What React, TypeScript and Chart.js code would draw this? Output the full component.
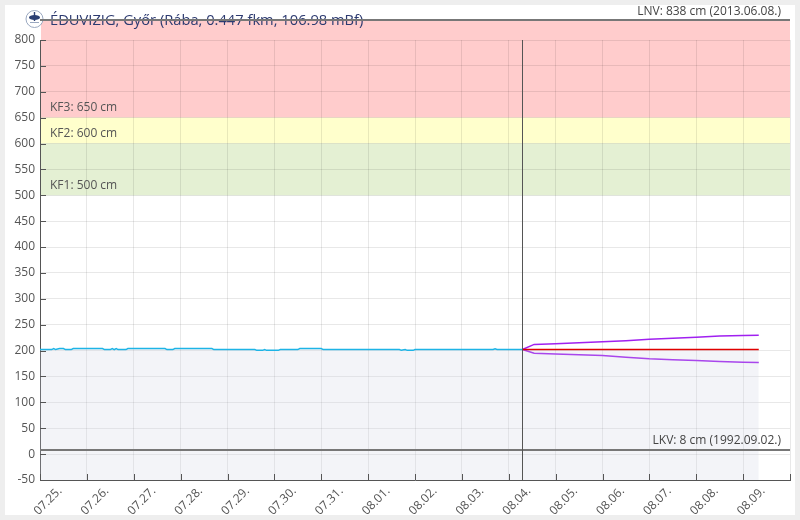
import React, { useEffect, useRef } from "react";
import { Chart, registerables } from "chart.js";

Chart.register(...registerables);

// ---- data ----
const titleText = "ÉDUVIZIG, Győr (Rába, 0.447 fkm, 106.98 mBf)";

// hours since 07.25. 00:00, one tick per day
const xTickLabels = [
  "07.25.", "07.26.", "07.27.", "07.28.", "07.29.", "07.30.", "07.31.", "08.01.",
  "08.02.", "08.03.", "08.04.", "08.05.", "08.06.", "08.07.", "08.08.", "08.09.", "",
];

const measuredHours = [
  0, 6, 7, 8, 10, 12, 13, 16, 17, 32, 33, 36, 37, 38, 39, 40, 44, 45, 64, 65, 68, 69,
  88, 89, 110, 111, 114, 115, 116, 122, 123, 132, 133, 144, 145, 184, 185, 187, 188,
  191, 192, 232, 233, 234, 247,
];
const measuredLevels = [
  202, 202, 204, 202, 204, 204, 202, 202, 204, 204, 202, 202, 204, 202, 204, 202, 202, 204,
  204, 202, 202, 204, 204, 202, 202, 200.5, 200.5, 202, 200.5, 200.5, 202, 202, 204, 204,
  202, 202, 200.5, 202, 200.5, 200.5, 202, 202, 203.5, 202, 202,
];

const forecastHours = [247, 253, 264, 276, 288, 300, 312, 324, 336, 348, 360, 368];
const forecastMid = [202, 202, 202, 202, 202, 202, 202, 202, 202, 202, 202, 202];
const forecastHigh = [202, 212, 213, 215, 217, 219, 222, 224, 226, 228, 229, 229.5];
const forecastLow = [202, 195, 193.5, 192, 190.5, 187, 184, 182.5, 181, 179, 177.5, 177];

const nowHour = 247;

const bandFrom = [650, 600, 500];
const bandTo = [838, 650, 600];
const bandColors = ["#ffcccc", "#ffffcc", "#e4f0d3"];
const kfValues = [650, 600, 500];
const kfLabels = ["KF3: 650 cm", "KF2: 600 cm", "KF1: 500 cm"];

const lnvValue = 838;
const lnvLabel = "LNV: 838 cm (2013.06.08.)";
const lkvValue = 8;
const lkvLabel = "LKV: 8 cm (1992.09.02.)";

const FONT = "'Open Sans', sans-serif";
const FILL = "rgba(200,205,225,0.22)";

const overlay = {
  id: "overlay",
  beforeDraw(chart: any) {
    const { ctx, chartArea: a, scales } = chart;
    const y = scales.y;
    ctx.save();
    for (let i = 0; i < bandFrom.length; i++) {
      const t = y.getPixelForValue(bandTo[i]);
      const b = y.getPixelForValue(bandFrom[i]);
      ctx.fillStyle = bandColors[i];
      ctx.fillRect(a.left + 1, t, a.right - a.left - 1, b - t);
    }
    ctx.restore();
  },
  afterDraw(chart: any) {
    const { ctx, chartArea: a, scales } = chart;
    const x = scales.x;
    const y = scales.y;
    ctx.save();

    // title + icon
    ctx.fillStyle = "#ffffff";
    ctx.strokeStyle = "#9aa8c0";
    ctx.lineWidth = 1;
    ctx.beginPath();
    ctx.arc(29.5, 14, 8.5, 0, Math.PI * 2);
    ctx.fill();
    ctx.stroke();
    ctx.fillStyle = "#2b3f73";
    ctx.beginPath();
    ctx.ellipse(29.5, 12.5, 5.5, 2.4, 0, 0, Math.PI * 2);
    ctx.fill();
    ctx.fillRect(28.8, 7, 1.4, 9);
    ctx.fillStyle = "#9aa8c0";
    ctx.fillRect(25, 17, 9, 1);

    ctx.font = `14.7px ${FONT}`;
    ctx.fillStyle = "#2c3a70";
    ctx.textBaseline = "middle";
    ctx.textAlign = "left";
    ctx.fillText(titleText, 45, 16);

    // LNV / LKV lines
    ctx.strokeStyle = "#777777";
    ctx.lineWidth = 2;
    const lnvY = Math.round(y.getPixelForValue(lnvValue));
    const lkvY = Math.round(y.getPixelForValue(lkvValue));
    ctx.beginPath();
    ctx.moveTo(a.left, lnvY);
    ctx.lineTo(a.right, lnvY);
    ctx.moveTo(a.left, lkvY);
    ctx.lineTo(a.right, lkvY);
    ctx.stroke();

    ctx.font = `12px ${FONT}`;
    ctx.fillStyle = "#444444";
    ctx.textAlign = "right";
    ctx.fillText(lnvLabel, a.right - 9, lnvY - 8);
    ctx.fillText(lkvLabel, a.right - 9, lkvY - 9);

    // KF labels
    ctx.fillStyle = "#555555";
    ctx.textAlign = "left";
    for (let i = 0; i < kfValues.length; i++) {
      ctx.fillText(kfLabels[i], a.left + 10, y.getPixelForValue(kfValues[i]) - 10);
    }

    // now line
    const nx = Math.round(x.getPixelForValue(nowHour)) + 0.5;
    ctx.strokeStyle = "#555555";
    ctx.lineWidth = 1;
    ctx.beginPath();
    ctx.moveTo(nx, a.top);
    ctx.lineTo(nx, a.bottom);
    ctx.stroke();

    // inner tick marks
    ctx.beginPath();
    x.ticks.forEach((t: any) => {
      const px = Math.round(x.getPixelForValue(t.value)) + 0.5;
      ctx.moveTo(px, a.bottom);
      ctx.lineTo(px, a.bottom - 6);
    });
    y.ticks.forEach((t: any) => {
      const py = Math.round(y.getPixelForValue(t.value)) + 0.5;
      ctx.moveTo(a.left, py);
      ctx.lineTo(a.left + 6, py);
    });
    ctx.stroke();

    ctx.restore();
  },
};

export default function App() {
  const ref = useRef<HTMLCanvasElement | null>(null);

  useEffect(() => {
    if (!ref.current) return;
    Chart.defaults.font.family = FONT;
    const chart = new Chart(ref.current, {
      type: "line",
      data: {
        datasets: [
          {
            data: measuredHours.map((h, i) => ({ x: h, y: measuredLevels[i] })),
            borderColor: "#1db4e6",
            borderWidth: 1.5,
            backgroundColor: FILL,
            fill: "start",
            pointRadius: 0,
            tension: 0,
          },
          {
            data: forecastHours.map((h, i) => ({ x: h, y: forecastMid[i] })),
            borderColor: "#e00000",
            borderWidth: 1.5,
            backgroundColor: FILL,
            fill: "start",
            pointRadius: 0,
            tension: 0,
          },
          {
            data: forecastHours.map((h, i) => ({ x: h, y: forecastHigh[i] })),
            borderColor: "#a020f0",
            borderWidth: 1.5,
            fill: false,
            pointRadius: 0,
            tension: 0,
          },
          {
            data: forecastHours.map((h, i) => ({ x: h, y: forecastLow[i] })),
            borderColor: "#a020f0",
            borderWidth: 1.5,
            fill: false,
            pointRadius: 0,
            tension: 0,
          },
        ],
      },
      options: {
        responsive: false,
        animation: false,
        devicePixelRatio: 1,
        layout: { padding: { top: 35, right: 5, left: 0, bottom: 0 } },
        plugins: {
          legend: { display: false },
          tooltip: { enabled: false },
          title: { display: false },
        },
        scales: {
          x: {
            type: "linear",
            min: 0,
            max: 384,
            afterFit: (s: any) => {
              s.height = 35;
              s.paddingLeft = 0;
              s.paddingRight = 0;
            },
            ticks: {
              stepSize: 24,
              autoSkip: false,
              minRotation: 45,
              maxRotation: 45,
              padding: 4,
              labelOffset: 20,
              color: "#555555",
              font: { size: 12, family: FONT },
              callback: (v: any) => xTickLabels[Math.round(Number(v) / 24)] ?? "",
            },
            grid: { color: "rgba(0,0,0,0.09)", drawTicks: false },
            border: { display: true, color: "#555555", width: 1 },
          },
          y: {
            min: -50,
            max: 800,
            afterFit: (s: any) => {
              s.width = 35;
              s.paddingTop = 0;
              s.paddingBottom = 0;
            },
            ticks: {
              stepSize: 50,
              padding: 5,
              color: "#555555",
              font: { size: 12, family: FONT },
            },
            grid: { color: "rgba(0,0,0,0.09)", drawTicks: false },
            border: { display: true, color: "#555555", width: 1 },
          },
        },
      },
      plugins: [overlay],
    });
    return () => chart.destroy();
  }, []);

  return (
    <div
      style={{
        position: "fixed",
        left: 0,
        top: 0,
        width: 800,
        height: 520,
        background: "#eeeeee",
      }}
    >
      <div
        style={{
          position: "absolute",
          left: 5,
          top: 5,
          width: 790,
          height: 510,
          background: "#ffffff",
          overflow: "hidden",
        }}
      >
        <canvas ref={ref} width={790} height={510} style={{ display: "block", width: 790, height: 510 }} />
      </div>
    </div>
  );
}
